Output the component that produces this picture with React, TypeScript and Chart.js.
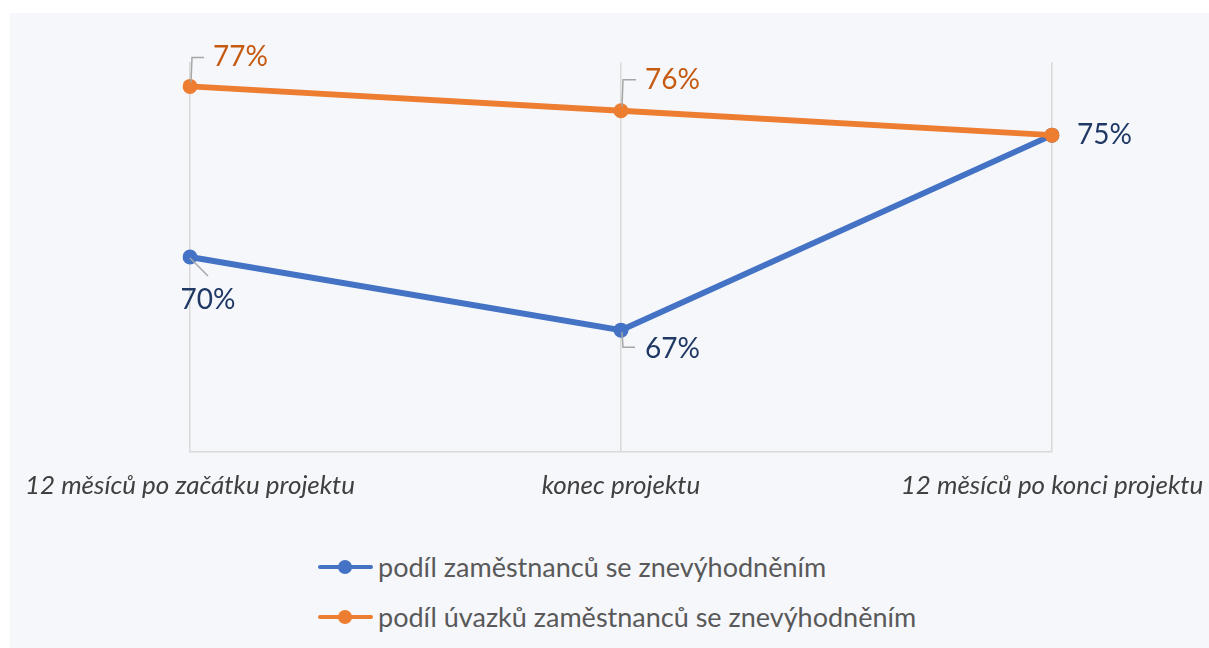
import React, { useEffect, useRef } from "react";
import { Chart, registerables } from "chart.js";

Chart.register(...registerables);

// ---------- data ----------
const categories = [
  "12 měsíců po začátku projektu",
  "konec projektu",
  "12 měsíců po konci projektu",
];
const seriesNames = [
  "podíl zaměstnanců se znevýhodněním",
  "podíl úvazků zaměstnanců se znevýhodněním",
];
const employeesShare = [70, 67, 75];
const fteShare = [77, 76, 75];
const axisMin = 62;
const axisMax = 78;

// ---------- style ----------
const lineColors = ["#4472c4", "#ed7d31"];
const labelColors = ["#1f3864", "#c55a11"];
const FONT = "Lato, 'Open Sans', sans-serif";

type LabelStyle = {
  dx: number;
  dy: number;
  align: CanvasTextAlign;
  leader?: number[][];
} | null;

// label placement relative to each point (dataset index, point index)
const labelStyles: LabelStyle[][] = [
  [
    { dx: 18, dy: 43, align: "center", leader: [[0, 1], [18, 19]] },
    { dx: 24, dy: 19, align: "left", leader: [[1, 2], [2, 17], [14, 17]] },
    { dx: 25, dy: 0, align: "left" },
  ],
  [
    { dx: 23, dy: -29, align: "left", leader: [[1, -4], [2, -29], [14, -29]] },
    { dx: 24, dy: -31, align: "left", leader: [[1, -4], [2, -31], [15, -31]] },
    null,
  ],
];

const pointLabelPlugin = {
  id: "pointLabels",
  afterDatasetsDraw(chart: any) {
    const ctx: CanvasRenderingContext2D = chart.ctx;
    chart.data.datasets.forEach((ds: any, di: number) => {
      const meta = chart.getDatasetMeta(di);
      meta.data.forEach((pt: any, i: number) => {
        const st = labelStyles[di][i];
        if (!st) return;
        const x = pt.x;
        const y = pt.y;
        ctx.save();
        if (st.leader) {
          ctx.beginPath();
          st.leader.forEach(([lx, ly], k) => {
            if (k === 0) ctx.moveTo(x + lx, y + ly);
            else ctx.lineTo(x + lx, y + ly);
          });
          ctx.strokeStyle = "#a6a6a6";
          ctx.lineWidth = 1.5;
          ctx.stroke();
        }
        ctx.font = `28px ${FONT}`;
        ctx.fillStyle = labelColors[di];
        ctx.textAlign = st.align;
        ctx.textBaseline = "middle";
        ctx.fillText(`${ds.data[i]}%`, x + st.dx, y + st.dy);
        ctx.restore();
      });
    });
  },
};

export default function App() {
  const canvasRef = useRef<HTMLCanvasElement | null>(null);

  useEffect(() => {
    let chart: Chart | null = null;
    let cancelled = false;
    const build = () => {
      if (cancelled || !canvasRef.current) return;
      chart = new Chart(canvasRef.current, {
        type: "line",
        data: {
          labels: categories,
          datasets: [
            {
              label: seriesNames[0],
              data: employeesShare,
              borderColor: lineColors[0],
              backgroundColor: lineColors[0],
              borderWidth: 6,
              pointRadius: 7.5,
              pointBorderWidth: 0,
              pointBackgroundColor: lineColors[0],
              tension: 0,
              order: 1,
            },
            {
              label: seriesNames[1],
              data: fteShare,
              borderColor: lineColors[1],
              backgroundColor: lineColors[1],
              borderWidth: 6,
              pointRadius: 7.5,
              pointBorderWidth: 0,
              pointBackgroundColor: lineColors[1],
              tension: 0,
              order: 0,
            },
          ],
        },
        options: {
          responsive: false,
          animation: false,
          events: [],
          layout: { padding: { left: 190, right: 187, top: 49, bottom: 13.8 } },
          plugins: {
            legend: { display: false },
            tooltip: { enabled: false },
          },
          scales: {
            x: {
              offset: false,
              grid: { color: "#d9d9d9", lineWidth: 1.5, drawTicks: false },
              border: { display: true, color: "#d9d9d9", width: 1.5 },
              ticks: {
                autoSkip: false,
                maxRotation: 0,
                padding: 18,
                color: "#404040",
                font: { family: FONT, size: 26, style: "italic" },
              },
            },
            y: {
              display: false,
              min: axisMin,
              max: axisMax,
            },
          },
        },
        plugins: [pointLabelPlugin],
      });
    };
    const fontsApi = (document as any).fonts;
    if (fontsApi && fontsApi.load) {
      Promise.all([
        fontsApi.load("28px Lato"),
        fontsApi.load("italic 26px Lato"),
      ])
        .catch(() => null)
        .then(build);
    } else {
      build();
    }
    return () => {
      cancelled = true;
      if (chart) chart.destroy();
    };
  }, []);

  return (
    <div
      style={{
        position: "fixed",
        left: 0,
        top: 0,
        width: 1209,
        height: 648,
        background: "#ffffff",
        overflow: "hidden",
      }}
    >
      <div
        style={{
          position: "absolute",
          left: 10,
          top: 13,
          width: 1199,
          height: 635,
          background: "#f6f7fb",
        }}
      />
      <canvas
        ref={canvasRef}
        width={1239}
        height={520}
        style={{ position: "absolute", left: 0, top: 13, width: 1239, height: 520 }}
      />
      {seriesNames.map((name, i) => {
        const cy = 567 + i * 50;
        return (
          <div key={name}>
            <div
              style={{
                position: "absolute",
                left: 318,
                top: cy - 2,
                width: 55,
                height: 4,
                borderRadius: 2,
                background: lineColors[i],
              }}
            />
            <div
              style={{
                position: "absolute",
                left: 345 - 7,
                top: cy - 7,
                width: 14,
                height: 14,
                borderRadius: 7,
                background: lineColors[i],
              }}
            />
            <div
              style={{
                position: "absolute",
                left: 378,
                top: cy - 18,
                height: 36,
                lineHeight: "36px",
                fontFamily: FONT,
                fontSize: 27,
                color: "#595959",
                whiteSpace: "nowrap",
              }}
            >
              {name}
            </div>
          </div>
        );
      })}
    </div>
  );
}
